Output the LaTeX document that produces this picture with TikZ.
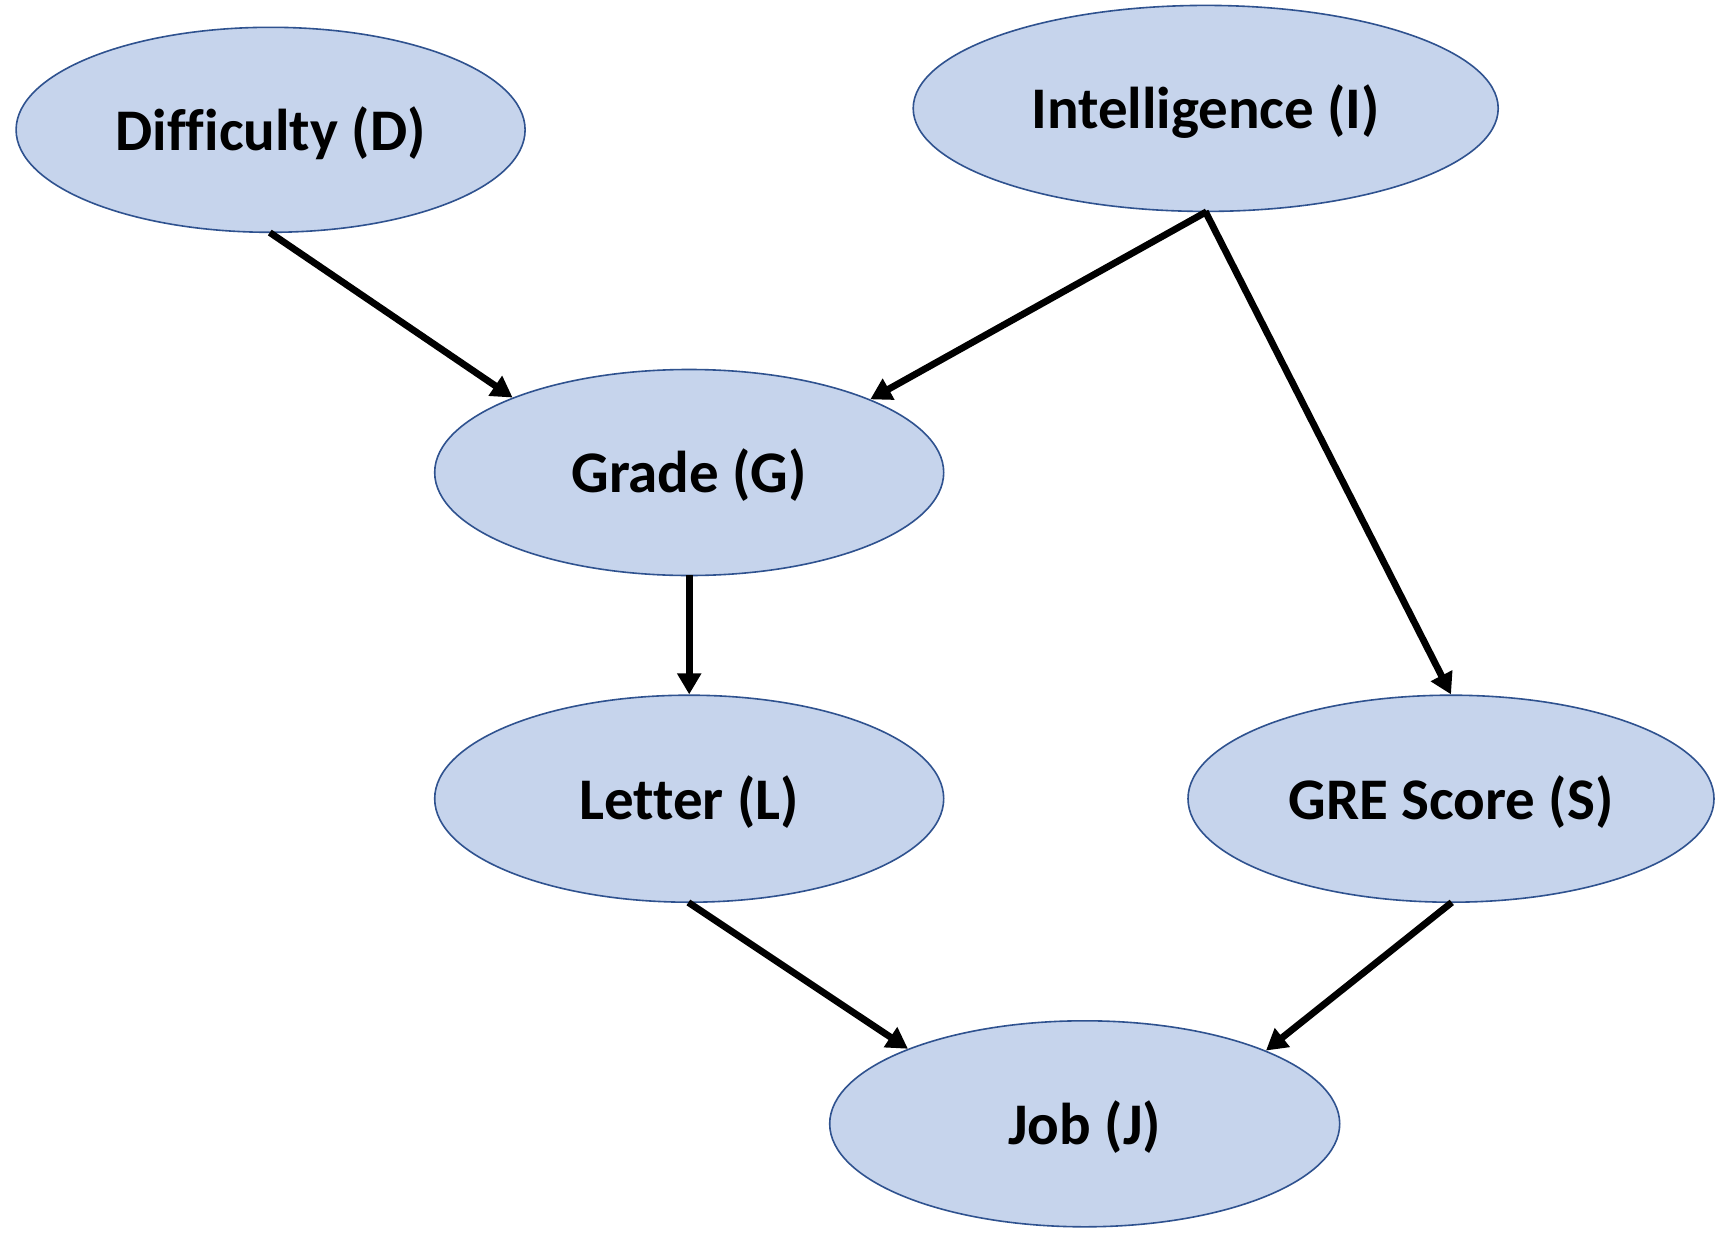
\documentclass[tikz,border=0pt]{standalone}
\usepackage{fontspec}
\setmainfont{Carlito}[Ligatures={NoCommon}]
\usetikzlibrary{shapes.geometric,arrows.meta}
\definecolor{nodefill}{HTML}{C6D4EC}
\definecolor{nodeline}{HTML}{2F528F}
\newcommand{\lbl}[1]{\raisebox{-3pt}[\height][\depth]{#1}}
\tikzset{
  var/.style={ellipse, draw=nodeline, line width=1.6pt, fill=nodefill, inner sep=0pt,
    font=\fontsize{59}{70}\selectfont\bfseries, text=black},
  edge/.style={line width=6.8pt, draw=black, -{Triangle[length=21pt,width=23pt]}, shorten <=-1pt}
}
\begin{document}
\begin{tikzpicture}[x=1pt,y=-1pt]
\useasboundingbox[fill=white] (0,0) rectangle (1725,1245);
\node[var, minimum width=509pt, minimum height=205pt] (D) at (270.6,129.8) {\lbl{Difficulty (D)}};
\node[var, minimum width=585pt, minimum height=206pt] (I) at (1205.7,108.4) {\lbl{Intelligence (I)}};
\node[var, minimum width=509pt, minimum height=206pt] (G) at (689.2,472.5) {\lbl{Grade (G)}};
\node[var, minimum width=509pt, minimum height=207pt] (L) at (689.2,798.7) {\lbl{Letter (L)}};
\node[var, minimum width=526pt, minimum height=207pt] (S) at (1451,798.7) {\lbl{GRE Score (S)}};
\node[var, minimum width=510pt, minimum height=206pt] (J) at (1084.7,1123.8) {\lbl{Job (J)}};
\draw[edge] (D.south) -- (G.157.6);
\draw[edge] (I.south) -- (G.22.2);
\draw[edge] (I.south) -- (S.north);
\draw[edge] (G.south) -- (L.north);
\draw[edge] (L.south) -- (J.157.6);
\draw[edge] (S.south) -- (J.22.1);
\end{tikzpicture}
\end{document}
